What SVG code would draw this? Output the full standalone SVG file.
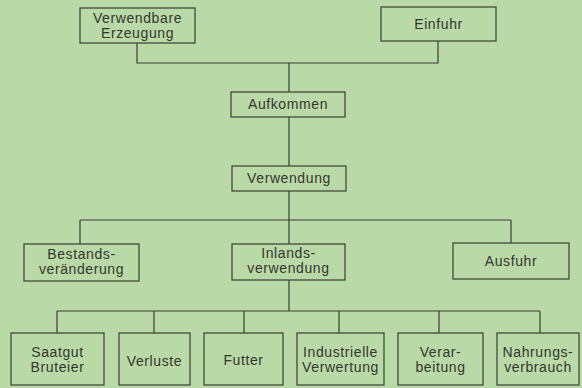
<svg xmlns="http://www.w3.org/2000/svg" width="582" height="388" viewBox="0 0 582 388">
<style>
.bg{fill:#b9d9a7}
.box{fill:none;stroke:#3c3d36;stroke-width:1.2}
.ln{fill:none;stroke:#3c3d36;stroke-width:1.2}
text{font-family:"Liberation Sans",Arial,sans-serif;font-size:14px;fill:#35362f;text-anchor:middle;letter-spacing:0.6px}
</style>
<rect class="bg" x="0" y="0" width="582" height="388"/>
<g id="connectors">
<path class="ln" d="M137,43 V63 H438 V41 M289,63 V92 M289,117 V166 M289,191 V220 M80,220 H511 M80,220 V244 M511,220 V243 M289,220 V244 M289,280 V311 M57,311 H540 M57,311 V333 M154,311 V333 M244,311 V333 M339,311 V333 M439,311 V333 M540,311 V333"/>
</g>
<g id="verwendbare">
<rect class="box" x="80" y="8" width="115" height="35"/>
<text x="137.5" y="23">Verwendbare</text>
<text x="137.5" y="38">Erzeugung</text>
</g>
<g id="einfuhr">
<rect class="box" x="381" y="7" width="115" height="34"/>
<text x="438.5" y="29">Einfuhr</text>
</g>
<g id="aufkommen">
<rect class="box" x="231" y="92" width="114" height="25"/>
<text x="288" y="109">Aufkommen</text>
</g>
<g id="verwendung">
<rect class="box" x="232" y="166" width="114" height="25"/>
<text x="289" y="183">Verwendung</text>
</g>
<g id="bestands">
<rect class="box" x="24" y="244" width="115" height="37"/>
<text x="81.5" y="259">Bestands-</text>
<text x="81.5" y="274">veränderung</text>
</g>
<g id="inlands">
<rect class="box" x="232" y="244" width="113" height="36"/>
<text x="288.5" y="258">Inlands-</text>
<text x="288.5" y="273">verwendung</text>
</g>
<g id="ausfuhr">
<rect class="box" x="453" y="243" width="116" height="36"/>
<text x="511" y="266">Ausfuhr</text>
</g>
<g id="saatgut">
<rect class="box" x="11" y="333" width="93" height="52"/>
<text x="57.5" y="357">Saatgut</text>
<text x="57.5" y="372">Bruteier</text>
</g>
<g id="verluste">
<rect class="box" x="119" y="333" width="71" height="52"/>
<text x="154.5" y="366">Verluste</text>
</g>
<g id="futter">
<rect class="box" x="204" y="333" width="79" height="52"/>
<text x="243.5" y="365">Futter</text>
</g>
<g id="industrielle">
<rect class="box" x="297" y="333" width="87" height="52"/>
<text x="340.5" y="357">Industrielle</text>
<text x="340.5" y="372">Verwertung</text>
</g>
<g id="verarbeitung">
<rect class="box" x="398" y="333" width="85" height="52"/>
<text x="440.5" y="357">Verar-</text>
<text x="440.5" y="372">beitung</text>
</g>
<g id="nahrungsverbrauch">
<rect class="box" x="497" y="333" width="82" height="52"/>
<text x="538" y="357">Nahrungs-</text>
<text x="538" y="372">verbrauch</text>
</g>
</svg>
